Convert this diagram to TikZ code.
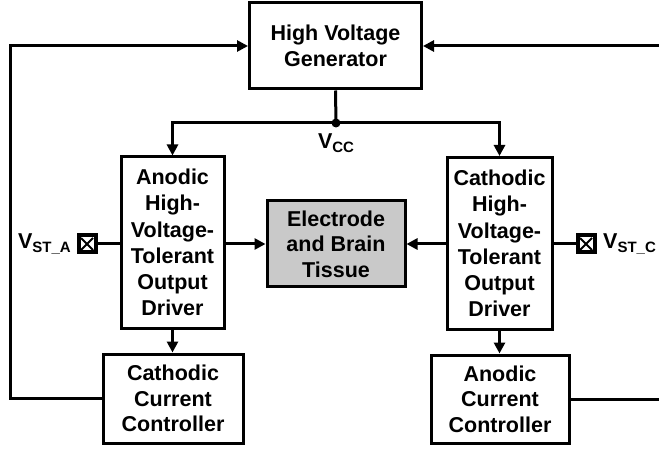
\documentclass[tikz,border=0pt]{standalone}
\usepackage{fontspec}
\setmainfont{Liberation Sans}
\usetikzlibrary{arrows.meta}
\newcommand{\subtxt}[1]{\raisebox{-0.3ex}{\fontsize{15}{15}\selectfont #1}}
\begin{document}
\begin{tikzpicture}[x=1pt,y=-1pt,
  blk/.style={draw,line width=3pt,align=center,inner sep=0pt,font=\fontsize{21.5}{25.5}\selectfont\bfseries},
  drv/.style={blk,font=\fontsize{21.5}{26.2}\selectfont\bfseries},
  conn/.style={line width=3pt},
  arr/.style={conn,-{Triangle[length=11pt,width=11pt]}},
  pad/.style={draw,line width=4pt,minimum size=17pt,inner sep=0pt,path picture={
      \draw[line width=2pt] ([shift={(-6pt,-6pt)}]path picture bounding box.center) -- ([shift={(6pt,6pt)}]path picture bounding box.center)
        ([shift={(-6pt,6pt)}]path picture bounding box.center) -- ([shift={(6pt,-6pt)}]path picture bounding box.center);}},
  lbl/.style={font=\fontsize{21.5}{25}\selectfont\bfseries,inner sep=0pt}
]
\useasboundingbox (0,0) rectangle (659,449);
\node[blk,minimum width=172pt,minimum height=86pt] (hvg) at (335.5,46) {High Voltage\\Generator};
\node[drv,minimum width=103pt,minimum height=171pt] (ldrv) at (172.5,242.5) {Anodic\\High-\\Voltage-\\Tolerant\\Output\\Driver};
\node[drv,minimum width=105pt,minimum height=172pt] (rdrv) at (499.5,243.5) {Cathodic\\High-\\Voltage-\\Tolerant\\Output\\Driver};
\node[blk,fill=black!21,minimum width=138pt,minimum height=86pt] (tis) at (336,244) {Electrode\\and Brain\\Tissue};
\node[blk,minimum width=140pt,minimum height=89pt] (cctl) at (173,398.5) {Cathodic\\Current\\Controller};
\node[blk,minimum width=138pt,minimum height=88pt] (actl) at (500,399) {Anodic\\Current\\Controller};
\node[pad] (pa) at (87,244) {};
\node[pad] (pc) at (586,244) {};
\node[lbl,anchor=east] (la) at (71,244) {V\subtxt{ST\_A}};
\node[lbl,anchor=west] (lc) at (603,244) {V\subtxt{ST\_C}};
\coordinate (vcc) at (336,123);
\fill (vcc) circle (4.5pt);
\node[lbl] (lvcc) at (336,143) {V\subtxt{CC}};
\coordinate (bl) at (ldrv.north |- vcc);
\coordinate (br) at (rdrv.north |- vcc);
\coordinate (fl) at (10,0);
\coordinate (fr) at (662,0);
% Vcc distribution
\draw[conn] (hvg.south) -- (vcc);
\draw[arr] (vcc) -- (bl) -- (ldrv.north);
\draw[arr] (vcc) -- (br) -- (rdrv.north);
% drivers to tissue
\draw[arr] (ldrv.east |- tis) -- (tis.west);
\draw[arr] (rdrv.west |- tis) -- (tis.east);
% pads
\draw[conn] (pa.east) -- (ldrv.west |- pa);
\draw[conn] (pc.west) -- (rdrv.east |- pc);
% drivers to controllers
\draw[arr] (ldrv.south) -- (ldrv.south |- cctl.north);
\draw[arr] (rdrv.south) -- (rdrv.south |- actl.north);
% feedback
\draw[arr] (cctl.west) -- (fl |- cctl) -- (fl |- hvg) -- (hvg.west);
\draw[arr] (actl.east) -- (fr |- actl) -- (fr |- hvg) -- (hvg.east);
\end{tikzpicture}
\end{document}
